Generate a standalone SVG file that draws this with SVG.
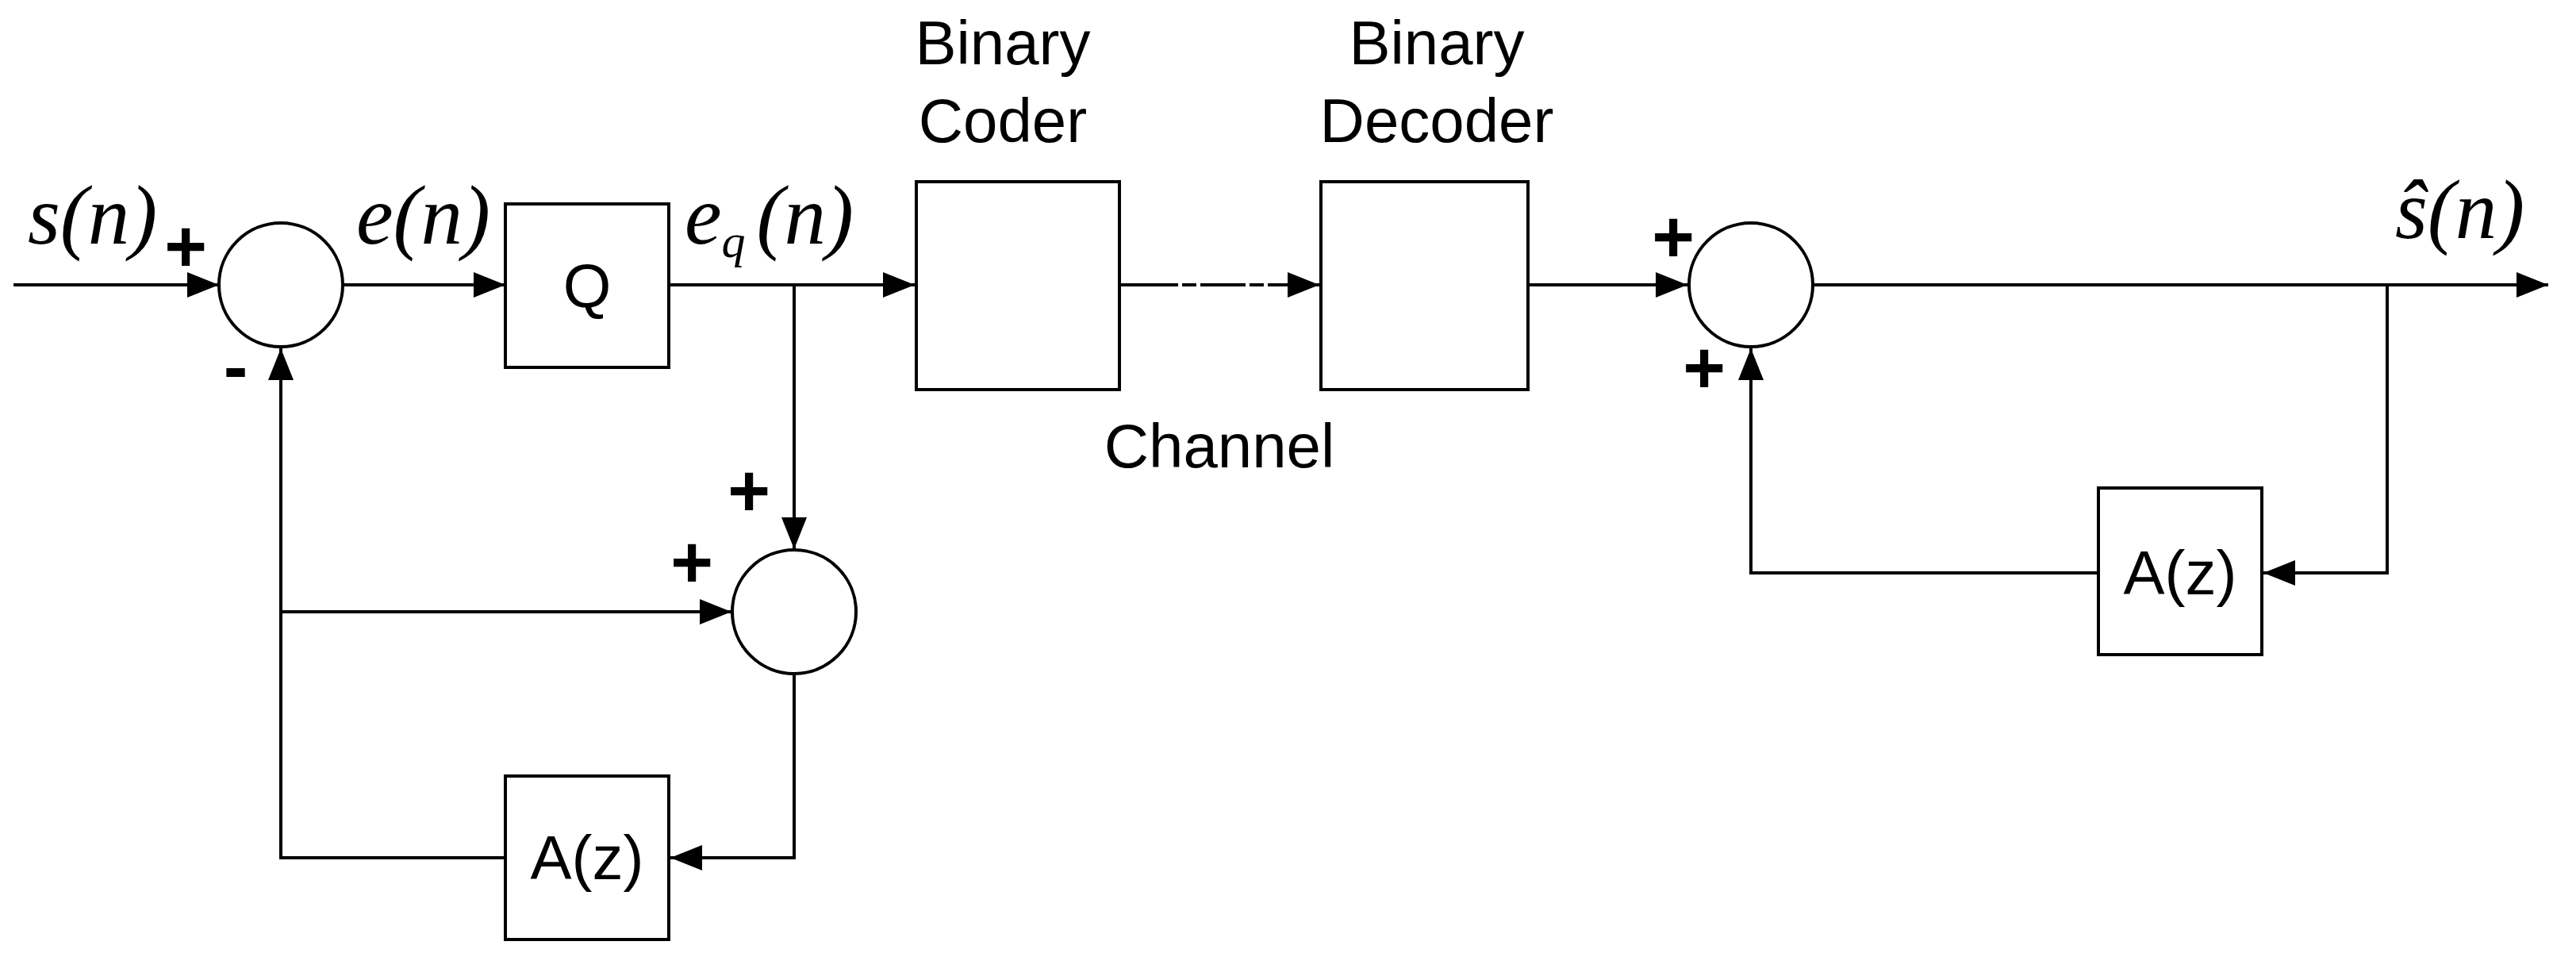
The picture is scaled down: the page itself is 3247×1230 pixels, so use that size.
<svg xmlns="http://www.w3.org/2000/svg" width="3247" height="1230" viewBox="0 0 3247 1230">
<style>
.s{fill:none;stroke:#000;stroke-width:4}
.b{fill:#fff;stroke:#000;stroke-width:4}
.t{font-family:"Liberation Sans",Arial,sans-serif;font-size:78px;fill:#000}
.m{font-family:"Liberation Serif","Times New Roman",serif;font-style:italic;font-size:105px;fill:#000}
.p{font-family:"Liberation Sans",Arial,sans-serif;font-size:92px;font-weight:bold;fill:#000}
</style>
<defs>
<marker id="a" markerWidth="40" markerHeight="40" viewBox="0 0 40 40" refX="40" refY="20" orient="auto" markerUnits="userSpaceOnUse"><path d="M0,4 L40,20 L0,36 Z" fill="#000"/></marker>
</defs>
<rect width="3247" height="1230" fill="#fff"/>
<g id="connectors">
<path class="s" d="M17,359 H276" marker-end="url(#a)"/>
<path class="s" d="M432,359 H637" marker-end="url(#a)"/>
<path class="s" d="M843,359 H1153" marker-end="url(#a)"/>
<path class="s" d="M1001,359 V692" marker-end="url(#a)"/>
<path class="s" d="M354,771 H922" marker-end="url(#a)"/>
<path class="s" d="M1001,848 V1081 H845" marker-end="url(#a)"/>
<path class="s" d="M639,1081 H354 V439" marker-end="url(#a)"/>
<path class="s" d="M1410,359 H1485 M1490,359 H1508 M1513,359 H1570 M1575,359 H1593 M1598,359 H1663" marker-end="url(#a)"/>
<path class="s" d="M1925,359 H2127" marker-end="url(#a)"/>
<path class="s" d="M2285,359 H3212" marker-end="url(#a)"/>
<path class="s" d="M3009,359 V722 H2853" marker-end="url(#a)"/>
<path class="s" d="M2645,722 H2207 V439" marker-end="url(#a)"/>
</g>
<g id="sum1"><circle class="b" cx="354" cy="359" r="78"/><text class="p" x="234" y="342" text-anchor="middle">+</text><text class="p" x="297" y="494" text-anchor="middle">-</text></g>
<g id="sum2"><circle class="b" cx="1001" cy="771" r="78"/><text class="p" x="944" y="650" text-anchor="middle">+</text><text class="p" x="872" y="740" text-anchor="middle">+</text></g>
<g id="sum3"><circle class="b" cx="2207" cy="359" r="78"/><text class="p" x="2109" y="330" text-anchor="middle">+</text><text class="p" x="2148" y="495" text-anchor="middle">+</text></g>
<g id="Q"><rect class="b" x="637" y="257" width="206" height="206"/><text class="t" x="740" y="387" text-anchor="middle">Q</text></g>
<g id="A1"><rect class="b" x="637" y="978" width="206" height="206"/><text class="t" x="740" y="1108" text-anchor="middle">A(z)</text></g>
<g id="A2"><rect class="b" x="2645" y="615" width="206" height="210"/><text class="t" x="2748" y="749" text-anchor="middle">A(z)</text></g>
<g id="coder"><rect class="b" x="1155" y="229" width="256" height="262"/><text class="t" x="1264" y="81" text-anchor="middle">Binary</text><text class="t" x="1264" y="179" text-anchor="middle">Coder</text></g>
<g id="decoder"><rect class="b" x="1665" y="229" width="261" height="262"/><text class="t" x="1811" y="81" text-anchor="middle">Binary</text><text class="t" x="1811" y="179" text-anchor="middle">Decoder</text></g>
<g id="labels">
<text class="t" x="1537" y="589" text-anchor="middle">Channel</text>
<text class="m" x="35" y="307">s(n)</text>
<text class="m" x="449" y="307">e(n)</text>
<text class="m" x="863" y="307">e<tspan font-size="60" dy="17">q</tspan><tspan dy="-17" dx="14">(n)</tspan></text>
<text class="m" x="3019" y="300">ŝ(n)</text>
</g>
</svg>
